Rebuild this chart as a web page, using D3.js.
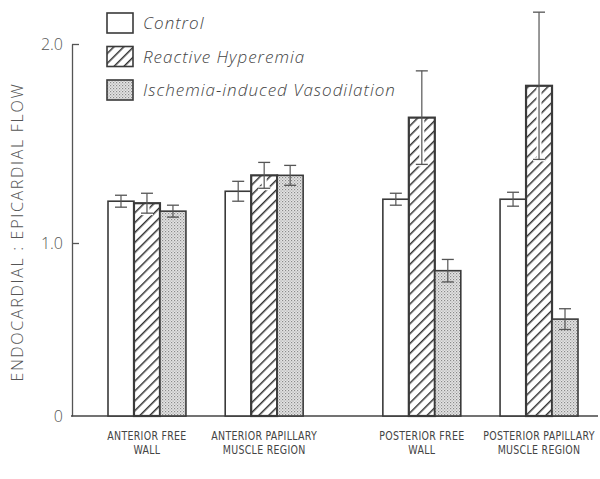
<!DOCTYPE html>
<html>
<head>
<meta charset="utf-8">
<script src="https://cdn.jsdelivr.net/npm/d3@7"></script>
<style>
  body { margin: 0; background: #fff; }
  svg { display: block; }
</style>
</head>
<body>
<div id="content"></div>
<script>
// data
const groups = ["Anterior Free Wall", "Anterior Papillary Muscle Region", "Posterior Free Wall", "Posterior Papillary Muscle Region"];
const regionOf = ["Anterior", "Anterior", "Posterior", "Posterior"];
const groupLines = [["ANTERIOR FREE", "WALL"], ["ANTERIOR PAPILLARY", "MUSCLE REGION"], ["POSTERIOR FREE", "WALL"], ["POSTERIOR PAPILLARY", "MUSCLE REGION"]];
const seriesNames = ["Control", "Reactive Hyperemia", "Ischemia-induced Vasodilation"];
const control = [1.21, 1.26, 1.22, 1.22];
const controlErr = [0.03, 0.05, 0.03, 0.035];
const hyperemia = [1.20, 1.34, 1.63, 1.79];
const hyperemiaErr = [0.05, 0.065, 0.235, 0.37];
const vasodil = [1.16, 1.34, 0.84, 0.56];
const vasodilErr = [0.03, 0.05, 0.065, 0.06];
const yTicks = [0, 1, 2];

const w = 600, h = 479;
const ink = "#3a3a3a";

const series = [
  { name: seriesNames[0], values: control, errs: controlErr, fill: "#fff" },
  { name: seriesNames[1], values: hyperemia, errs: hyperemiaErr, fill: "url(#hatch)" },
  { name: seriesNames[2], values: vasodil, errs: vasodilErr, fill: "url(#stipple)" }
];

const svg = d3.select("#content").append("svg").attr("width", w).attr("height", h);

const defs = svg.append("defs");
const hatch = defs.append("pattern").attr("id", "hatch")
  .attr("patternUnits", "userSpaceOnUse").attr("width", 7).attr("height", 7)
  .attr("patternTransform", "rotate(45)");
hatch.append("rect").attr("width", 7).attr("height", 7).attr("fill", "#fff");
hatch.append("line").attr("x1", 0).attr("y1", 0).attr("x2", 0).attr("y2", 7)
  .attr("stroke", "#333").attr("stroke-width", 3);

const stip = defs.append("pattern").attr("id", "stipple")
  .attr("patternUnits", "userSpaceOnUse").attr("width", 3).attr("height", 3);
stip.append("rect").attr("width", 3).attr("height", 3).attr("fill", "#e4e4e4");
stip.append("rect").attr("width", 1.2).attr("height", 1.2).attr("fill", "#8a8a8a");
stip.append("rect").attr("x", 1.5).attr("y", 1.5).attr("width", 1.2).attr("height", 1.2).attr("fill", "#a8a8a8");

// scales: the printed axis is not evenly spaced, so the scale is piecewise
const y = d3.scaleLinear().domain([0, 1, 2]).range([416, 243, 44]);
const xRegion = d3.scaleBand().domain(["Anterior", "Posterior"]).range([108, 578]).paddingInner(0.29);
const xGroup = d3.scaleBand().domain([0, 1]).range([0, xRegion.bandwidth()]).paddingInner(0.335);
const xBar = d3.scaleBand().domain(seriesNames).range([0, xGroup.bandwidth()]);

const gx = i => xRegion(regionOf[i]) + xGroup(i % 2);

// y axis
const yAxis = d3.axisLeft(y).tickValues(yTicks)
  .tickFormat(d => d === 0 ? "0" : d3.format(".1f")(d))
  .tickSizeInner(-7).tickSizeOuter(0).tickPadding(9);
const ya = svg.append("g").attr("transform", "translate(72,0)").call(yAxis);
ya.select(".domain").attr("stroke", "#555").attr("stroke-width", 1.3);
ya.selectAll(".tick line").attr("stroke", "#555").attr("stroke-width", 1.3);
ya.selectAll(".tick").filter(d => d === 0).select("line").remove();
ya.selectAll(".tick text").attr("fill", "#555")
  .style("font-family", "'Open Sans', sans-serif").style("font-size", "16px").style("font-weight", 300);

// baseline
svg.append("line").attr("x1", 71).attr("x2", 598).attr("y1", y(0)).attr("y2", y(0))
  .attr("stroke", "#444").attr("stroke-width", 1.4);

// bars
series.forEach(s => {
  const g = svg.append("g");
  g.selectAll("rect").data(s.values).enter().append("rect")
    .attr("x", (d, i) => gx(i) + xBar(s.name))
    .attr("y", d => y(d))
    .attr("width", xBar.bandwidth())
    .attr("height", d => y(0) - y(d))
    .attr("fill", s.fill)
    .attr("stroke", ink)
    .attr("stroke-width", s.name === seriesNames[1] ? 2.2 : 1.6);
});

// error bars
series.forEach(s => {
  const g = svg.append("g");
  s.values.forEach((v, i) => {
    const cx = gx(i) + xBar(s.name) + xBar.bandwidth() / 2;
    const lo = y(v - s.errs[i]), hi = y(v + s.errs[i]);
    if (s.name === seriesNames[1]) {
      g.append("line").attr("x1", cx).attr("x2", cx).attr("y1", Math.max(lo, y(v))).attr("y2", y(v) + 1.5)
        .attr("stroke", "#fff").attr("stroke-width", 5);
      g.append("line").attr("x1", cx - 6).attr("x2", cx + 6).attr("y1", lo).attr("y2", lo)
        .attr("stroke", "#fff").attr("stroke-width", 4);
    }
    g.append("line").attr("x1", cx).attr("x2", cx).attr("y1", lo).attr("y2", hi)
      .attr("stroke", "#555").attr("stroke-width", 1.2);
    [lo, hi].forEach(yy => g.append("line").attr("x1", cx - 6).attr("x2", cx + 6)
      .attr("y1", yy).attr("y2", yy).attr("stroke", "#555").attr("stroke-width", 1.3));
  });
});

// group labels
groupLines.forEach((lines, i) => {
  const cx = gx(i) + xGroup.bandwidth() / 2;
  lines.forEach((t, j) => {
    svg.append("text").text(t)
      .attr("transform", `translate(${cx},${440 + j * 14}) scale(1,1.2)`)
      .attr("text-anchor", "middle").attr("fill", "#444")
      .style("font-family", "'Liberation Sans Narrow', 'DejaVu Sans Condensed', sans-serif")
      .style("font-size", "10.5px").style("letter-spacing", "0.3px");
  });
});

// y title
svg.append("text").text("ENDOCARDIAL : EPICARDIAL FLOW")
  .attr("transform", "translate(23,232) rotate(-90)")
  .attr("text-anchor", "middle").attr("fill", "#555")
  .style("font-family", "'Open Sans', sans-serif").style("font-size", "16px")
  .style("font-weight", 300).style("letter-spacing", "1.7px");

// legend
const leg = svg.append("g").attr("transform", "translate(107,13)");
series.forEach((s, i) => {
  leg.append("rect").attr("x", 0).attr("y", i * 33.5).attr("width", 26).attr("height", 20)
    .attr("fill", s.fill).attr("stroke", ink).attr("stroke-width", 1.6);
  leg.append("text").text(s.name).attr("x", 36).attr("y", i * 33.5 + 16)
    .attr("fill", "#444").style("font-family", "'Open Sans', sans-serif")
    .style("font-style", "italic").style("font-size", "17px").style("font-weight", 300)
    .style("letter-spacing", "1px");
});
</script>
</body>
</html>
